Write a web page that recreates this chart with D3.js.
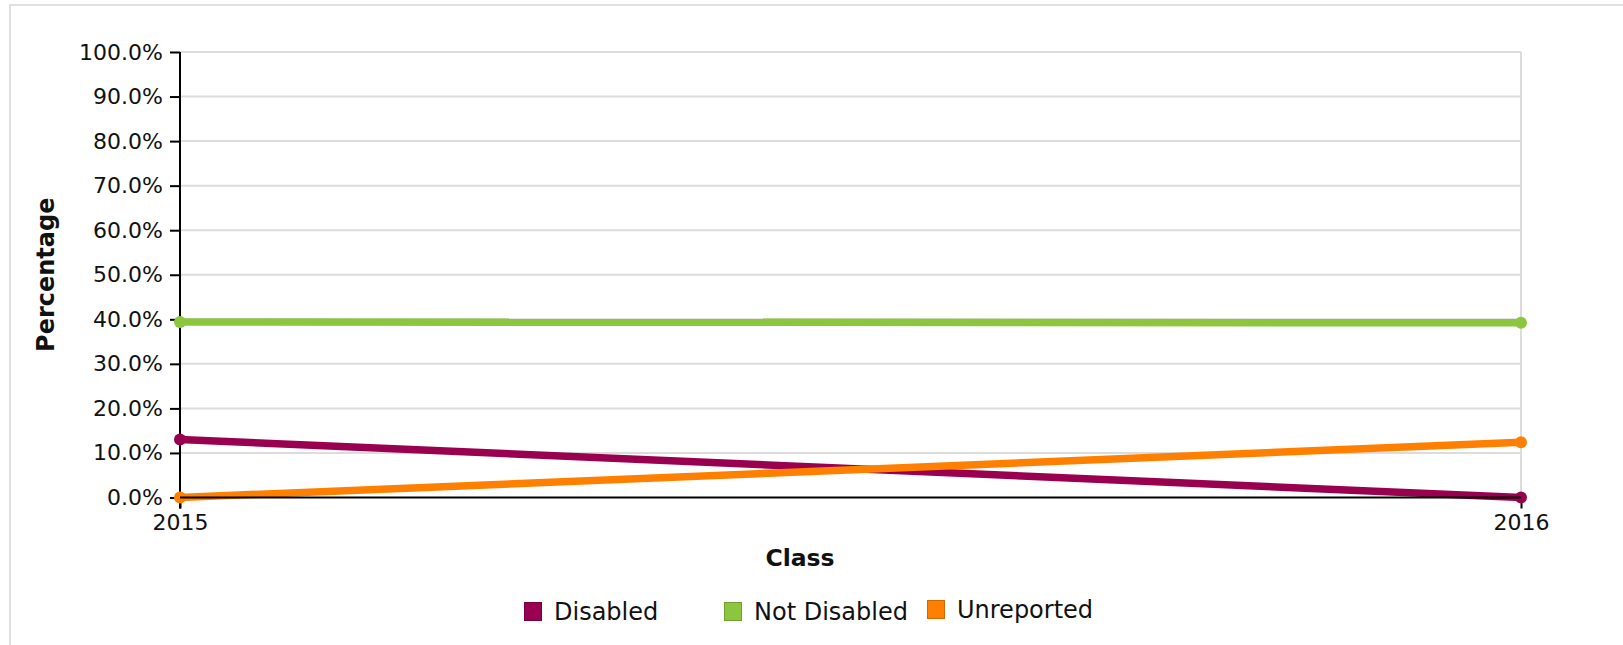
<!DOCTYPE html>
<html><head><meta charset="utf-8">
<script src="https://cdn.jsdelivr.net/npm/d3@7"></script>
<style>
html,body{margin:0;padding:0;background:#fff;overflow:hidden;}
text{font-family:"DejaVu Sans",sans-serif;fill:#111;}
</style></head>
<body>
<svg id="chart" width="1623" height="645"></svg>
<script>
const categories = ["2015", "2016"];
const seriesNames = ["Disabled", "Not Disabled", "Unreported"];
const disabledValues = [13.0, 0.0];
const notDisabledValues = [39.4, 39.2];
const unreportedValues = [0.0, 12.4];
const yTicks = [0, 10, 20, 30, 40, 50, 60, 70, 80, 90, 100];
const colors = ["#990050", "#8cc63f", "#ff8000"];
const strokeColors = ["#7a0040", "#6fa030", "#d06800"];

const series = [
  {name: seriesNames[0], values: disabledValues, color: colors[0], stroke: strokeColors[0]},
  {name: seriesNames[1], values: notDisabledValues, color: colors[1], stroke: strokeColors[1]},
  {name: seriesNames[2], values: unreportedValues, color: colors[2], stroke: strokeColors[2]}
];

const svg = d3.select("#chart");
// outer frame
svg.append("rect").attr("x", 10).attr("y", 5).attr("width", 1700).attr("height", 700)
  .attr("fill", "none").attr("stroke", "#e0e0e0").attr("stroke-width", 2);

const pLeft = 180, pRight = 1521, pTop = 52, pBottom = 497.5;
const x = d3.scalePoint().domain(categories).range([pLeft, pRight]);
const y = d3.scaleLinear().domain([0, 100]).range([pBottom, pTop]);

// grid
const g = svg.append("g");
g.selectAll("line.grid").data(yTicks.filter(d => d > 0)).enter().append("line")
  .attr("x1", pLeft).attr("x2", pRight).attr("y1", d => y(d)).attr("y2", d => y(d))
  .attr("stroke", "#dcdcdc").attr("stroke-width", 2);
g.append("line").attr("x1", pRight).attr("x2", pRight).attr("y1", pTop).attr("y2", pBottom)
  .attr("stroke", "#dcdcdc").attr("stroke-width", 2);

// y axis
const yAxis = d3.axisLeft(y).tickValues(yTicks).tickSize(10).tickPadding(7)
  .tickFormat(d => d3.format(".1f")(d) + "%");
const ya = svg.append("g").attr("transform", `translate(${pLeft},0)`).call(yAxis);
ya.select(".domain").remove();
ya.selectAll(".tick line").attr("stroke", "#000").attr("stroke-width", 2);
ya.selectAll(".tick text").attr("font-size", 22).attr("font-family", "DejaVu Sans").attr("fill", "#111");
svg.append("line").attr("x1", pLeft).attr("x2", pLeft).attr("y1", pTop).attr("y2", pBottom + 11)
  .attr("stroke", "#000").attr("stroke-width", 2);

// x axis
const xAxis = d3.axisBottom(x).tickSize(11).tickPadding(6);
const xa = svg.append("g").attr("transform", `translate(0,${pBottom})`).call(xAxis);
xa.select(".domain").remove();
xa.selectAll(".tick line").attr("stroke", "#000").attr("stroke-width", 2);
xa.selectAll(".tick text").attr("font-size", 22).attr("font-family", "DejaVu Sans").attr("fill", "#111");

// lines
const line = d3.line().x((d, i) => x(categories[i])).y(d => y(d));
series.forEach(s => {
  svg.append("path").datum(s.values).attr("d", line)
    .attr("fill", "none").attr("stroke", s.color).attr("stroke-width", 7.5);
  svg.selectAll(null).data(s.values).enter().append("circle")
    .attr("cx", (d, i) => x(categories[i])).attr("cy", d => y(d)).attr("r", 6)
    .attr("fill", s.color);
});

// x-axis baseline on top
svg.append("line").attr("x1", pLeft).attr("x2", pRight).attr("y1", pBottom).attr("y2", pBottom)
  .attr("stroke", "#000").attr("stroke-width", 2);

// titles
svg.append("text").attr("x", 800).attr("y", 566).attr("text-anchor", "middle")
  .attr("font-size", 23.5).attr("font-weight", "bold").text("Class");
svg.append("text").attr("transform", `translate(54,${(pTop + pBottom) / 2}) rotate(-90)`)
  .attr("text-anchor", "middle").attr("font-size", 24).attr("font-weight", "bold").text("Percentage");

// legend
const legendX = [524, 724, 927];
const legendDy = [0, 0, -2];
series.forEach((s, i) => {
  const lg = svg.append("g").attr("transform", `translate(${legendX[i]},${602 + legendDy[i]})`);
  lg.append("rect").attr("x", 0.5).attr("y", 0.5).attr("width", 17).attr("height", 18)
    .attr("fill", s.color).attr("stroke", s.stroke).attr("stroke-width", 1);
  lg.append("text").attr("x", 30).attr("y", 18).attr("font-size", 24).text(s.name);
});
</script>
</body></html>
